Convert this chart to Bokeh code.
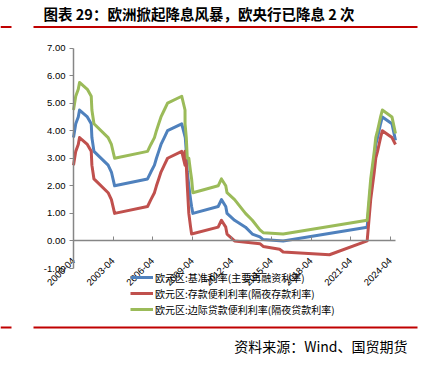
import math
import pandas as pd
from bokeh.plotting import figure
from bokeh.models import (FixedTicker, DatetimeTickFormatter, NumeralTickFormatter, DatetimeAxis,
                          LinearAxis, CustomJSTickFormatter, Legend, LegendItem, Label,
                          BoxAnnotation, Range1d)
from bokeh.embed import file_html
from bokeh.resources import INLINE

# ---------------- data (policy-rate change points, %) ----------------
mro_dates = ["2000-04-27", "2000-06-28", "2000-09-06", "2000-10-11", "2001-05-15", "2001-08-31",
             "2001-09-18", "2001-11-14", "2002-12-11", "2003-03-12", "2003-06-09", "2005-12-06",
             "2006-03-08", "2006-06-15", "2006-08-09", "2006-10-11", "2006-12-13", "2007-03-14",
             "2007-06-13", "2008-07-09", "2008-10-15", "2008-11-12", "2008-12-10", "2009-01-21",
             "2009-03-11", "2009-04-08", "2009-05-13", "2011-04-13", "2011-07-13", "2011-11-09",
             "2011-12-14", "2012-07-11", "2013-05-08", "2013-11-13", "2014-06-11", "2014-09-10",
             "2016-03-16", "2022-07-27", "2022-09-14", "2022-11-02", "2022-12-21", "2023-02-08",
             "2023-03-22", "2023-05-10", "2023-06-21", "2023-08-02", "2023-09-20", "2024-06-12",
             "2024-09-18"]
mro_values = [3.75, 4.25, 4.50, 4.75, 4.50, 4.25, 3.75, 3.25, 2.75, 2.50, 2.00, 2.25,
              2.50, 2.75, 3.00, 3.25, 3.50, 3.75, 4.00, 4.25, 3.75, 3.25, 2.50, 2.00,
              1.50, 1.25, 1.00, 1.25, 1.50, 1.25, 1.00, 0.75, 0.50, 0.25, 0.15, 0.05,
              0.00, 0.50, 1.25, 2.00, 2.50, 3.00, 3.50, 3.75, 4.00, 4.25, 4.50, 4.25, 3.65]

dfr_dates = ["2000-04-27", "2000-06-28", "2000-09-06", "2000-10-11", "2001-05-15", "2001-08-31",
             "2001-09-18", "2001-11-14", "2002-12-11", "2003-03-12", "2003-06-09", "2005-12-06",
             "2006-03-08", "2006-06-15", "2006-08-09", "2006-10-11", "2006-12-13", "2007-03-14",
             "2007-06-13", "2008-07-09", "2008-10-08", "2008-10-09", "2008-11-12", "2008-12-10",
             "2009-01-21", "2009-03-11", "2009-04-08", "2011-04-13", "2011-07-13", "2011-11-09",
             "2011-12-14", "2012-07-11", "2014-06-11", "2014-09-10", "2015-12-09", "2016-03-16",
             "2019-09-18", "2022-07-27", "2022-09-14", "2022-11-02", "2022-12-21", "2023-02-08",
             "2023-03-22", "2023-05-10", "2023-06-21", "2023-08-02", "2023-09-20", "2024-06-12",
             "2024-09-18"]
dfr_values = [2.75, 3.25, 3.50, 3.75, 3.50, 3.25, 2.75, 2.25, 1.75, 1.50, 1.00, 1.25,
              1.50, 1.75, 2.00, 2.25, 2.50, 2.75, 3.00, 3.25, 2.75, 3.25, 2.75, 2.00,
              1.00, 0.50, 0.25, 0.50, 0.75, 0.50, 0.25, 0.00, -0.10, -0.20, -0.30, -0.40,
              -0.50, 0.00, 0.75, 1.50, 2.00, 2.50, 3.00, 3.25, 3.50, 3.75, 4.00, 3.75, 3.50]

mlf_dates = ["2000-04-27", "2000-06-28", "2000-09-06", "2000-10-11", "2001-05-15", "2001-08-31",
             "2001-09-18", "2001-11-14", "2002-12-11", "2003-03-12", "2003-06-09", "2005-12-06",
             "2006-03-08", "2006-06-15", "2006-08-09", "2006-10-11", "2006-12-13", "2007-03-14",
             "2007-06-13", "2008-07-09", "2008-10-08", "2008-10-09", "2008-11-12", "2008-12-10",
             "2009-01-21", "2009-03-11", "2009-04-08", "2009-05-13", "2011-04-13", "2011-07-13",
             "2011-11-09", "2011-12-14", "2012-07-11", "2013-05-08", "2013-11-13", "2014-06-11",
             "2014-09-10", "2016-03-16", "2022-07-27", "2022-09-14", "2022-11-02", "2022-12-21",
             "2023-02-08", "2023-03-22", "2023-05-10", "2023-06-21", "2023-08-02", "2023-09-20",
             "2024-06-12", "2024-09-18"]
mlf_values = [4.75, 5.25, 5.50, 5.75, 5.50, 5.25, 4.75, 4.25, 3.75, 3.50, 3.00, 3.25,
              3.50, 3.75, 4.00, 4.25, 4.50, 4.75, 5.00, 5.25, 4.75, 4.25, 3.75, 3.00,
              3.00, 2.50, 2.25, 1.75, 2.00, 2.25, 2.00, 1.75, 1.50, 1.00, 0.75, 0.40,
              0.30, 0.25, 0.75, 1.50, 2.25, 2.75, 3.25, 3.75, 4.00, 4.25, 4.50, 4.75,
              4.50, 3.90]

series_names = ["欧元区:基准利率(主要再融资利率)",
                "欧元区:存款便利利率(隔夜存款利率)",
                "欧元区:边际贷款便利利率(隔夜贷款利率)"]
series_colors = ["#4F81BD", "#C0504D", "#9BBB59"]

x_tick_dates = ["2000-04-27", "2003-04-27", "2006-04-27", "2009-04-27", "2012-04-27",
                "2015-04-27", "2018-04-27", "2021-04-27", "2024-04-27"]
y_ticks = [-1, 0, 1, 2, 3, 4, 5, 6, 7]
x_start, x_end = "2000-04-27", "2024-09-18"
y_min, y_max = -1, 7

title_text = "图表 29：欧洲掀起降息风暴，欧央行已降息 2 次"
source_text = "资料来源：Wind、国贸期货"

# ---------------- layout (pixels) ----------------
W, H = 428, 365
PLOT_L, PLOT_R, PLOT_T, PLOT_B = 73, 395, 47.5, 268   # plot area inside the canvas


def ms(d):
    return pd.Timestamp(d).value / 1e6


x0, x1 = ms(x_start), ms(x_end)
xs = (x1 - x0) / (PLOT_R - PLOT_L)
ys = (y_max - y_min) / (PLOT_B - PLOT_T)
x_range = Range1d(x0 - PLOT_L * xs, x1 + (W - PLOT_R) * xs)
y_range = Range1d(y_min - (H - PLOT_B) * ys, y_max + PLOT_T * ys)

p = figure(width=W, height=H, x_axis_type=None, y_axis_type=None, output_backend="svg",
           toolbar_location=None, min_border=0, x_range=x_range, y_range=y_range)
p.outline_line_color = None
p.xgrid.visible = False
p.ygrid.visible = False

renderers = []
for dates, vals, col in [(mro_dates, mro_values, series_colors[0]),
                         (dfr_dates, dfr_values, series_colors[1]),
                         (mlf_dates, mlf_values, series_colors[2])]:
    r = p.line(pd.to_datetime(dates), vals, line_color=col, line_width=3, line_join="round")
    renderers.append(r)

xticker = FixedTicker(ticks=[ms(d) for d in x_tick_dates])
fmt = DatetimeTickFormatter(years="%Y-%m", months="%Y-%m", days="%Y-%m", hours="%Y-%m",
                            hourmin="%Y-%m", minutes="%Y-%m", minsec="%Y-%m", seconds="%Y-%m",
                            milliseconds="%Y-%m", microseconds="%Y-%m")
axis_grey = "#868686"
label_font = "Liberation Sans"

# x labels at the bottom of the plot area
xa = DatetimeAxis(fixed_location=y_min, ticker=xticker, formatter=fmt,
                  axis_line_color=None, major_tick_line_color=None, minor_tick_line_color=None,
                  major_label_orientation=math.pi / 4, major_label_standoff=-15,
                  major_label_text_font=label_font, major_label_text_font_size="9.5px",
                  major_label_text_color="#000000")
p.add_layout(xa, "below")

# axis line at zero
za = DatetimeAxis(fixed_location=0, ticker=xticker, bounds=(x0, x1),
                  formatter=CustomJSTickFormatter(code="return ''"),
                  axis_line_color=axis_grey, axis_line_width=1.5,
                  major_tick_line_color=axis_grey, major_tick_out=4, major_tick_in=0,
                  minor_tick_line_color=None, major_label_text_font_size="1px")
p.add_layout(za, "above")

ya = LinearAxis(fixed_location=x0, ticker=FixedTicker(ticks=y_ticks), bounds=(y_min, y_max),
                formatter=NumeralTickFormatter(format="0.00"),
                axis_line_color=axis_grey, axis_line_width=1.5,
                major_tick_line_color=axis_grey, major_tick_out=4, major_tick_in=0,
                minor_tick_line_color=None, major_label_standoff=4,
                major_label_text_font=label_font, major_label_text_font_size="9.5px",
                major_label_text_color="#000000")
p.add_layout(ya, "left")

legend = Legend(items=[LegendItem(label=n, renderers=[r]) for n, r in zip(series_names, renderers)],
                location=(130, H - 317), background_fill_alpha=0, border_line_color=None,
                padding=0, margin=0, spacing=0, glyph_width=23, glyph_height=16,
                label_height=16, label_standoff=2, label_text_font="Noto Sans CJK SC",
                label_text_font_size="10px", label_text_color="#000000")
p.add_layout(legend)

# title, rules, source (screen units, from the canvas' bottom-left)
p.add_layout(Label(x=43, y=H - 12.5, x_units="screen", y_units="screen", text=title_text,
                   text_font="Noto Sans CJK SC", text_font_style="bold", text_font_size="14.5px",
                   text_baseline="middle", text_align="left", text_color="#000000"))
rule_red = "#C00000"
for yy in (H - 26.5, H - 327):
    for lft, rgt in ((0, 11), (33, 417)):
        p.add_layout(BoxAnnotation(left=lft, right=rgt, bottom=yy - 1, top=yy + 1,
                                   left_units="screen", right_units="screen",
                                   bottom_units="screen", top_units="screen",
                                   fill_color=rule_red, fill_alpha=1, line_color=None))
p.add_layout(Label(x=407, y=H - 345, x_units="screen", y_units="screen", text=source_text,
                   text_font="Noto Sans CJK SC", text_font_size="14px",
                   text_baseline="middle", text_align="right", text_color="#000000"))

open("out.html", "w").write(file_html(p, INLINE))
